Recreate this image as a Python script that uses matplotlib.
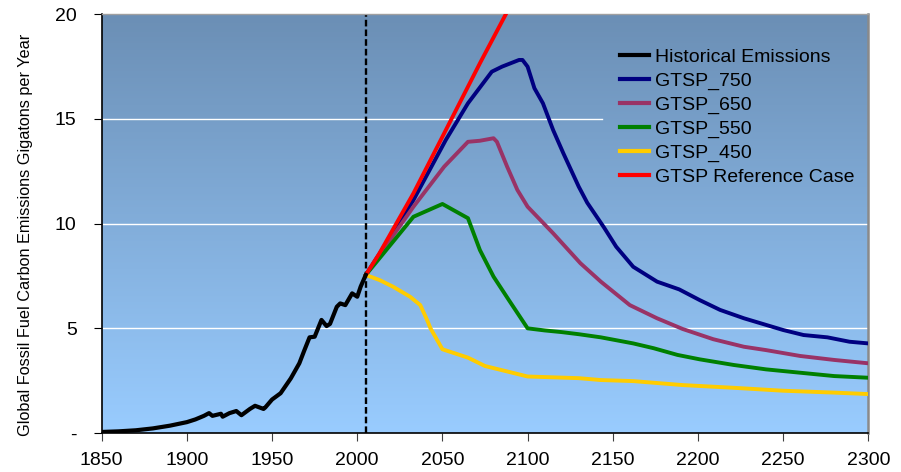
import numpy as np
import matplotlib
matplotlib.use("Agg")
import matplotlib.pyplot as plt

plt.rcParams['font.family'] = ['Liberation Sans', 'DejaVu Sans']

# ============ DATA ============
hist_years = [1850, 1860, 1870, 1880, 1890, 1900, 1905, 1910, 1913, 1915, 1920, 1921,
              1925, 1929, 1932, 1937, 1940, 1945, 1946, 1950, 1955, 1961, 1966, 1969,
              1972, 1975, 1979, 1982, 1984, 1988, 1990, 1993, 1997, 2000, 2002, 2005]
hist_vals = [0.05, 0.08, 0.13, 0.22, 0.35, 0.52, 0.65, 0.82, 0.95, 0.82, 0.92, 0.78,
             0.95, 1.05, 0.85, 1.15, 1.30, 1.15, 1.22, 1.60, 1.90, 2.61, 3.33, 3.96,
             4.57, 4.60, 5.40, 5.11, 5.21, 6.03, 6.19, 6.11, 6.67, 6.51, 6.99, 7.55]

ref_years = [2005, 2013, 2033, 2052, 2072, 2087, 2095]
ref_vals = [7.55, 8.58, 11.45, 14.47, 17.66, 19.97, 21.2]

g750_years = [2005, 2013, 2033, 2052, 2065, 2079, 2085, 2095, 2097, 2100, 2104, 2109,
              2115, 2121, 2130, 2135, 2145, 2152, 2162, 2176, 2189, 2201, 2213, 2227,
              2250, 2262, 2276, 2289, 2300]
g750_vals = [7.55, 8.55, 11.13, 14.0, 15.75, 17.26, 17.50, 17.82, 17.82, 17.50, 16.47, 15.75,
             14.47, 13.36, 11.77, 11.0, 9.8, 8.9, 7.94, 7.23, 6.86, 6.35, 5.88, 5.48,
             4.92, 4.68, 4.57, 4.36, 4.28]

g650_years = [2005, 2013, 2033, 2051, 2065, 2072, 2080, 2082, 2088, 2094, 2100, 2115,
              2131, 2143, 2160, 2176, 2191, 2209, 2227, 2240, 2260, 2280, 2300]
g650_vals = [7.55, 8.5, 10.81, 12.72, 13.91, 13.96, 14.08, 13.91, 12.72, 11.61, 10.81, 9.54,
             8.11, 7.23, 6.11, 5.48, 4.97, 4.48, 4.12, 3.96, 3.68, 3.49, 3.33]

g550_years = [2005, 2013, 2033, 2050, 2065, 2072, 2080, 2089, 2100, 2110, 2120, 2130,
              2143, 2162, 2174, 2188, 2201, 2221, 2240, 2260, 2280, 2300]
g550_vals = [7.55, 8.34, 10.33, 10.94, 10.26, 8.74, 7.47, 6.35, 5.0, 4.9, 4.82, 4.72,
             4.57, 4.28, 4.05, 3.73, 3.52, 3.25, 3.04, 2.88, 2.72, 2.64]

g450_years = [2005, 2013, 2021, 2031, 2037, 2041, 2043, 2050, 2065, 2075, 2090, 2100,
              2130, 2143, 2162, 2191, 2221, 2250, 2280, 2300]
g450_vals = [7.55, 7.31, 6.99, 6.51, 6.11, 5.40, 5.00, 4.0, 3.6, 3.2, 2.9, 2.7,
             2.62, 2.53, 2.48, 2.29, 2.16, 2.02, 1.93, 1.86]

x_ticks = [1850, 1900, 1950, 2000, 2050, 2100, 2150, 2200, 2250, 2300]
y_ticks = [0, 5, 10, 15, 20]
y_tick_labels = ['-', '5', '10', '15', '20']
grid_vals = [5, 10, 15]
split_year = 2005

# ============ PLOT ============
fig = plt.figure(figsize=(9.01, 4.72), dpi=100)
ax = fig.add_axes([0.1129, 0.0826, 0.8508, 0.8871])

# gradient background
grad = np.linspace(0, 1, 256).reshape(-1, 1)
top_c = np.array([0.42, 0.56, 0.71])
bot_c = np.array([0.60, 0.80, 1.00])
img = top_c + (bot_c - top_c) * grad[:, :, None]
ax.imshow(img, extent=[0, 1, 0, 1], transform=ax.transAxes, aspect='auto', zorder=0)

for g in grid_vals:
    xmax = 0.652 if g == 15 else 1.0
    ax.axhline(g, xmin=0, xmax=xmax, color='white', lw=1, zorder=1)

ax.axvline(split_year, color='black', lw=1.7, linestyle=(0, (2.8, 1.3)), zorder=2)

lw = 2.8
ax.plot(hist_years, hist_vals, color='black', lw=3.0, label='Historical Emissions', zorder=5)
ax.plot(g750_years, g750_vals, color='#000080', lw=lw, label='GTSP_750', zorder=4)
ax.plot(g650_years, g650_vals, color='#993366', lw=lw, label='GTSP_650', zorder=4)
ax.plot(g550_years, g550_vals, color='#008000', lw=lw, label='GTSP_550', zorder=4)
ax.plot(g450_years, g450_vals, color='#FFCC00', lw=lw, label='GTSP_450', zorder=4)
ax.plot(ref_years, ref_vals, color='#FF0000', lw=lw, label='GTSP Reference Case', zorder=4)

ax.set_xlim(1850, 2300)
ax.set_ylim(0, 20)
ax.set_xticks(x_ticks)
ax.set_yticks(y_ticks)
ax.set_yticklabels(y_tick_labels)
ax.tick_params(axis='both', labelsize=14, length=6, direction='out')
ax.tick_params(axis='y', pad=12)
ax.tick_params(axis='x', pad=8, color='#404040')

for side in ['left', 'bottom']:
    ax.spines[side].set_color('black')
    ax.spines[side].set_linewidth(1.2)
ax.spines['right'].set_color('#8a8a8a')
ax.spines['right'].set_linewidth(1.8)
ax.spines['top'].set_color('#a0a0a0')
ax.spines['top'].set_linewidth(1.0)

fig.text(26 / 901, 1 - 235 / 472, 'Global Fossil Fuel Carbon Emissions Gigatons per Year',
         rotation=90, ha='center', va='center', fontsize=11.7)

leg = ax.legend(loc='upper left', bbox_to_anchor=(0.676, 0.918), frameon=False, fontsize=14,
                handlelength=1.5, handletextpad=0.3, labelspacing=0.32, borderpad=0,
                borderaxespad=0)
for h in leg.get_lines():
    h.set_linewidth(3.0)

fig.savefig('out.png', dpi=100)
